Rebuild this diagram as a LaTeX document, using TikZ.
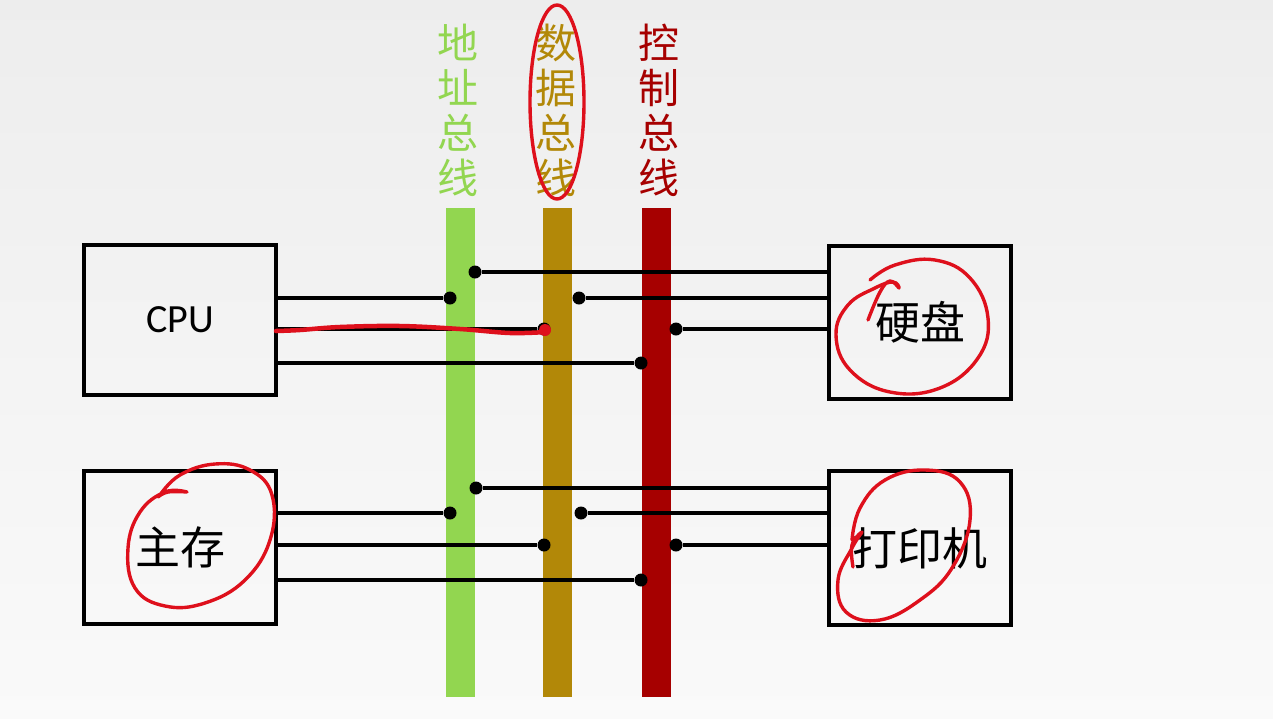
\documentclass[tikz,border=0pt]{standalone}
\usepackage{fontspec}
\setmainfont{Carlito}
\newfontfamily\cjk{Noto Sans CJK SC}
\usetikzlibrary{positioning}

\definecolor{addrgreen}{RGB}{146,214,80}
\definecolor{datagold}{RGB}{178,136,8}
\definecolor{ctrlred}{RGB}{166,0,0}
\definecolor{penred}{RGB}{222,16,28}

\begin{document}
\begin{tikzpicture}[x=1pt, y=-1pt,
		unit/.style={draw, line width=4pt, inner sep=0pt, font=\cjk\fontsize{45}{45}\selectfont},
		bus/.style={minimum width=29pt, minimum height=489pt, inner sep=0pt},
		busname/.style={align=center, font=\cjk\fontsize{41}{45}\selectfont},
		dot/.style={circle, fill=black, inner sep=0pt, minimum size=13pt},
		wire/.style={line width=3.2pt},
		redpen/.style={penred, line width=3.4pt, line cap=round, line join=round}]

	\fill[top color=black!7, bottom color=black!2] (0,0) rectangle (1273,718);
	\useasboundingbox (0,0) rectangle (1273,718);

	% buses
	\node [bus, fill=addrgreen]	(abus)	at (460.5,452.5)	{};
	\node [bus, fill=datagold]	(dbus)	[right = 68pt of abus]	{};
	\node [bus, fill=ctrlred]	(cbus)	[right = 69pt of dbus]	{};

	\node [busname, text=addrgreen]	(addr)	at (458,110)	{地\\址\\总\\线};
	\node [busname, text=datagold]	(data)	at (556,110)	{数\\据\\总\\线};
	\node [busname, text=ctrlred]	(ctrl)	at (659,110)	{控\\制\\总\\线};

	% units
	\node [unit, minimum width=192pt, minimum height=150pt, font=\fontsize{40}{40}\selectfont]	(cpu)	at (180,320)	{CPU};
	\node [unit, minimum width=192pt, minimum height=153pt]	(mem)	[below = 72pt of cpu]	{主存};
	\node [unit, minimum width=182pt, minimum height=153pt]	(disk)	at (920,322.5)	{硬盘};
	\node [unit, minimum width=182pt, minimum height=154pt]	(prn)	[below = 68pt of disk]	{打印机};

	% taps on the buses
	\node [dot]	(c1)	at (450,298)	{};
	\node [dot]	(c2)	at (544,329)	{};
	\node [dot]	(c3)	at (641,363)	{};
	\node [dot]	(d1)	at (475,272)	{};
	\node [dot]	(d2)	at (579,298)	{};
	\node [dot]	(d3)	at (676,329)	{};
	\node [dot]	(m1)	at (450,513)	{};
	\node [dot]	(m2)	at (544,545)	{};
	\node [dot]	(m3)	at (641,580)	{};
	\node [dot]	(p1)	at (476,488)	{};
	\node [dot]	(p2)	at (581,513)	{};
	\node [dot]	(p3)	at (676,545)	{};

	\foreach \t in {c1,c2,c3,m1,m2,m3}
		\draw [wire] (cpu.east |- \t) -- (\t);
	\foreach \t in {d1,d2,d3,p1,p2,p3}
		\draw [wire] (\t) -- (disk.west |- \t);

	% handwritten marks
	\draw [redpen] (557,102) ellipse [x radius=27, y radius=97];
	\draw [redpen, line width=4.5pt] plot [smooth, tension=0.6] coordinates {(276,331) (300,330) (340,327) (400,326) (460,329) (510,333) (546,332)};
	\fill [penred] (545,330) circle (6pt);
	\draw [redpen] plot [smooth, tension=0.7] coordinates {(868,320) (880,292) (890,281) (899,288) (893,282) (875,288) (848,305) (836,335) (850,370) (890,392) (940,388) (978,358) (988,318) (970,278) (935,260) (895,265) (870,280)};
	\draw [redpen] plot [smooth, tension=0.7] coordinates {(853,567) (852,545) (862,532) (852,548) (838,580) (846,612) (880,620) (920,600) (952,568) (970,520) (960,482) (925,470) (885,480) (860,508) (852,540)};
	\draw [redpen] plot [smooth, tension=0.7] coordinates {(158,497) (168,492) (187,492) (165,492) (140,512) (128,548) (135,588) (165,606) (205,603) (245,580) (270,540) (272,495) (250,470) (215,464) (180,475) (160,495)};
\end{tikzpicture}
\end{document}
